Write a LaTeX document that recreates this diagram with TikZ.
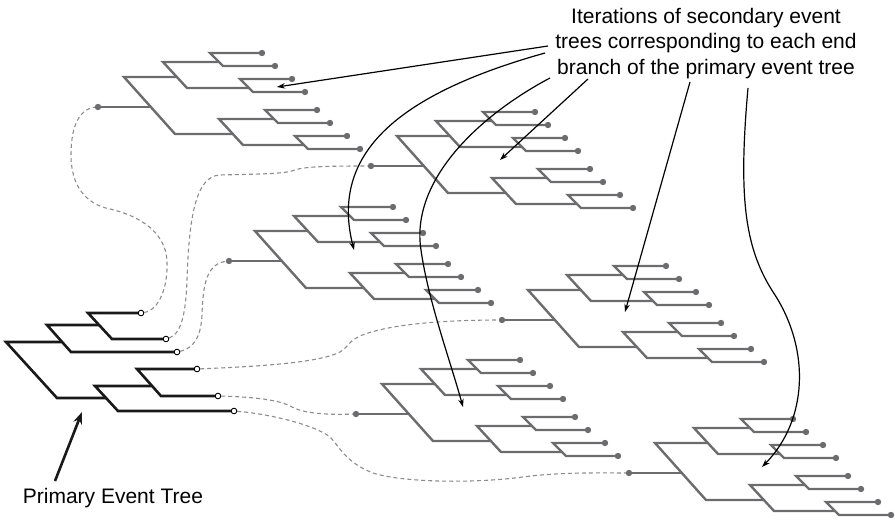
\documentclass[tikz,border=0pt]{standalone}
\usepackage{fontspec}
\setmainfont{Liberation Sans}
\usetikzlibrary{arrows.meta}
\definecolor{treegray}{RGB}{108,108,110}
\definecolor{linkgray}{RGB}{140,140,140}
\tikzset{
  branch/.style={draw=treegray,line width=2.4pt,line join=miter},
  primary/.style={draw=black!90,line width=2.6pt,line join=miter},
  enddot/.style={circle,draw=black,fill=white,line width=0.9pt,inner sep=0pt,minimum size=5.6pt},
  link/.style={draw=linkgray,line width=1.1pt,dash pattern=on 4pt off 3pt},
  pointer/.style={draw=black,line width=1.2pt,-{Stealth[length=8pt,width=5.5pt]}},
  label/.style={font=\fontsize{21}{25.5}\selectfont,inner sep=0pt},
  subtree/.pic={
    \draw[branch] (0,0) -- (52.8,0);
    \draw[branch] (79,-30) -- (26,-30) -- (77,27) -- (135,27);
    \draw[branch] (121,-45) -- (65,-45) -- (89,-19) -- (151,-19);
    \draw[branch] (176,12) -- (121,12) -- (145,38) -- (206,38);
    \draw[branch] (164,-54) -- (112,-54) -- (125,-41) -- (177,-41);
    \draw[branch] (194,-28) -- (142,-28) -- (155,-15) -- (207,-15);
    \draw[branch] (219,3) -- (167,3) -- (180,16) -- (232,16);
    \draw[branch] (249,29) -- (197,29) -- (210,42) -- (262,42);
    \foreach \a/\b in {0/0,164/-54,177/-41,194/-28,207/-15,219/3,232/16,249/29,262/42}
      \fill[treegray] (\a,\b) circle[radius=3.2pt];
  }
}
\begin{document}
\begin{tikzpicture}[x=1pt,y=-1pt]
\useasboundingbox (0,0) rectangle (895,521);

% roots of the secondary event trees
\coordinate (r1) at (98,107);
\coordinate (r2) at (371,166);
\coordinate (r3) at (229,261);
\coordinate (r4) at (502,320);
\coordinate (r5) at (356,414);
\coordinate (r6) at (629,473);

% end branches of the primary event tree
\node[enddot] (p1) at (141,313) {};
\node[enddot] (p2) at (166,339) {};
\node[enddot] (p3) at (177,352) {};
\node[enddot] (p4) at (197,369) {};
\node[enddot] (p5) at (218,396) {};
\node[enddot] (p6) at (234,411) {};

% dashed links from each end branch to its secondary tree
\draw[link] (p1) .. controls (160,310) and (168,285) .. (167,262)
  .. controls (166,228) and (132,214) .. (110,209)
  .. controls (85,204) and (71,185) .. (71,155)
  .. controls (71,125) and (80,107) .. (r1);
\draw[link] (p2) .. controls (182,334) and (186,310) .. (187,280)
  .. controls (189,220) and (195,176) .. (220,175)
  .. controls (260,174) and (285,174) .. (295,170)
  .. controls (305,166) and (340,166) .. (r2);
\draw[link] (p3) .. controls (195,348) and (201,335) .. (202,315)
  .. controls (203,285) and (206,262) .. (r3);
\draw[link] (p4) .. controls (270,366) and (320,362) .. (340,352)
  .. controls (350,346) and (348,340) .. (365,334)
  .. controls (400,322) and (460,320) .. (r4);
\draw[link] (p5) .. controls (255,397) and (280,400) .. (292,407)
  .. controls (305,414) and (330,415) .. (r5);
\draw[link] (p6) .. controls (270,414) and (315,425) .. (330,437)
  .. controls (340,447) and (345,462) .. (373,473)
  .. controls (400,482) and (470,484) .. (523,477)
  .. controls (560,472) and (600,473) .. (r6);

% secondary event trees
\foreach \i in {1,...,6} \pic at (r\i) {subtree};

% primary event tree
\draw[primary] (61.4,342) -- (6,342) -- (57,398) -- (106.6,398);
\draw[primary] (98.8,325) -- (47,325) -- (71,352) -- (p3);
\draw[primary] (p1) -- (88,313) -- (112,339) -- (p2);
\draw[primary] (151.4,386) -- (95,386) -- (118,411) -- (p6);
\draw[primary] (p4) -- (137,369) -- (161,396) -- (p5);

% captions
\node[label,align=center,anchor=north] (caption) at (706,8)
  {Iterations of secondary event\\trees corresponding to each end\\branch of the primary event tree};
\node[label,anchor=base west] (ptlabel) at (22.7,503.3) {Primary Event Tree};

% pointers from the caption into the secondary trees
\coordinate (s1) at (548,46);
\coordinate (s2) at (588,79);
\coordinate (s3) at (545,53);
\coordinate (s4) at (690,82);
\coordinate (s5) at (550,78);
\coordinate (s6) at (748,88);
\coordinate (t1) at (277,87);
\coordinate (t2) at (500,160);
\coordinate (t3) at (354,250);
\coordinate (t4) at (625,312);
\coordinate (t5) at (463,407);
\coordinate (t6) at (762,467);
\draw[pointer] (s1) -- (t1);
\draw[pointer] (s2) -- (t2);
\draw[pointer] (s3) .. controls (395,95) and (330,155) .. (t3);
\draw[pointer] (s4) -- (t4);
\draw[pointer] (s5) .. controls (480,115) and (410,180) .. (421,250)
  .. controls (428,300) and (450,360) .. (t5);
\draw[pointer] (s6) .. controls (738,200) and (745,250) .. (775,295)
  .. controls (810,350) and (808,420) .. (t6);

% pointer to the primary tree
\coordinate (pt) at (82,412);
\draw[black!90,line width=2.6pt,-{Stealth[length=12pt,width=9pt]}] (55,481) -- (pt);
\end{tikzpicture}
\end{document}
